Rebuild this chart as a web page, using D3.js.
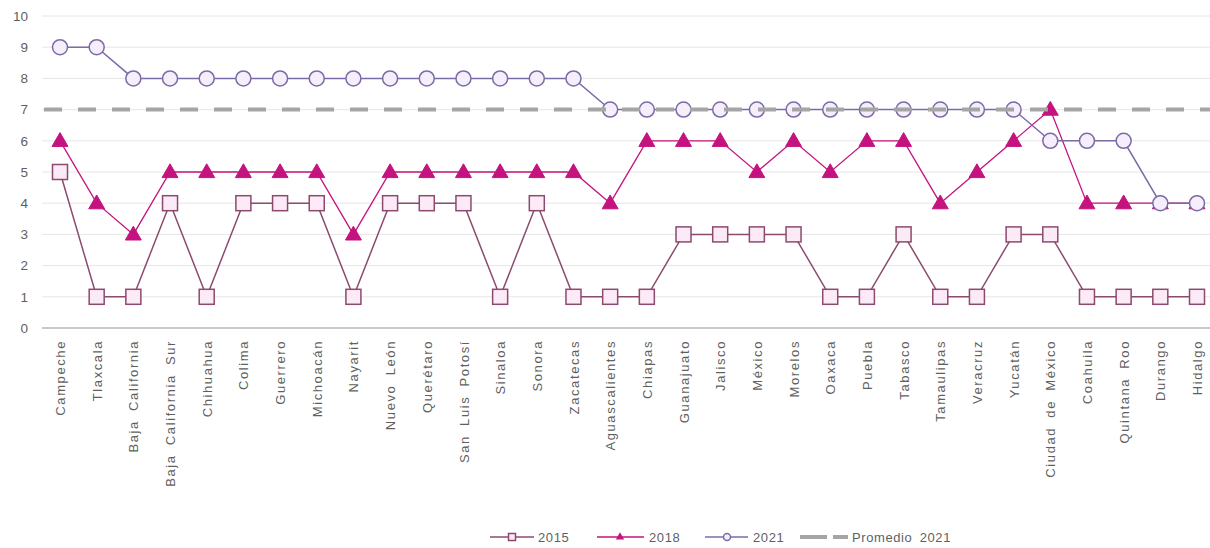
<!DOCTYPE html>
<html><head><meta charset="utf-8">
<script src="https://cdn.jsdelivr.net/npm/d3@7"></script>
<style>
body{margin:0;background:#fff;}
text{font-family:"Liberation Sans",Arial,sans-serif;fill:#5f5f5f;}
</style></head>
<body><svg id="c" width="1210" height="548"></svg>
<script>
const categories = ["Campeche","Tlaxcala","Baja California","Baja California Sur","Chihuahua","Colima","Guerrero","Michoacán","Nayarit","Nuevo León","Querétaro","San Luis Potosí","Sinaloa","Sonora","Zacatecas","Aguascalientes","Chiapas","Guanajuato","Jalisco","México","Morelos","Oaxaca","Puebla","Tabasco","Tamaulipas","Veracruz","Yucatán","Ciudad de México","Coahuila","Quintana Roo","Durango","Hidalgo"];
const values2015 = [5,1,1,4,1,4,4,4,1,4,4,4,1,4,1,1,1,3,3,3,3,1,1,3,1,1,3,3,1,1,1,1];
const values2018 = [6,4,3,5,5,5,5,5,3,5,5,5,5,5,5,4,6,6,6,5,6,5,6,6,4,5,6,7,4,4,4,4];
const values2021 = [9,9,8,8,8,8,8,8,8,8,8,8,8,8,8,7,7,7,7,7,7,7,7,7,7,7,7,6,6,6,4,4];
const promedio2021 = 7;
const yTicks = [0,1,2,3,4,5,6,7,8,9,10];
const seriesNames = ["2015","2018","2021","Promedio  2021"];

const svg = d3.select("#c");
const x = d3.scalePoint().domain(categories).range([60,1197]);
const y = d3.scaleLinear().domain([0,10]).range([328,16]);

// gridlines
svg.append("g").selectAll("line").data(yTicks.filter(d=>d>0)).join("line")
  .attr("x1",42).attr("x2",1210).attr("y1",d=>y(d)).attr("y2",d=>y(d))
  .attr("stroke","#E6E6E6").attr("stroke-width",1);

// y axis
const ya = svg.append("g").attr("transform","translate(30,0)")
  .call(d3.axisLeft(y).tickValues(yTicks).tickSize(0).tickPadding(0));
ya.select(".domain").remove();
ya.selectAll("text").attr("font-size",13.5).attr("fill","#5f5f5f").attr("x",-2);

// x axis
const xa = svg.append("g").attr("transform","translate(0,328)")
  .call(d3.axisBottom(x).tickSize(0));
xa.select(".domain").remove();
xa.selectAll("text").attr("transform","rotate(-90)").attr("text-anchor","end")
  .attr("x",-12).attr("y",0).attr("dy","0.35em")
  .attr("font-size",13).attr("fill","#666666")
  .style("letter-spacing","1.6px").style("word-spacing","4px");
svg.append("line").attr("x1",42).attr("x2",1210).attr("y1",y(0)).attr("y2",y(0))
  .attr("stroke","#C9C9C9").attr("stroke-width",2);

const line = d3.line().x((d,i)=>x(categories[i])).y(d=>y(d));

const C15 = "#8C4A6E", F15 = "#FCEAF6";
const C18 = "#C4137F";
const C21 = "#7A6CA6", F21 = "#F6EEFB";
const CAVG = "#A5A5A5";

// 2015
svg.append("path").datum(values2015).attr("d",line).attr("fill","none").attr("stroke",C15).attr("stroke-width",1.5);
svg.append("g").selectAll("rect").data(values2015).join("rect")
  .attr("x",(d,i)=>x(categories[i])-7.5).attr("y",d=>y(d)-7.5).attr("width",15).attr("height",15)
  .attr("fill",F15).attr("stroke",C15).attr("stroke-width",1.5);

// 2018
svg.append("path").datum(values2018).attr("d",line).attr("fill","none").attr("stroke",C18).attr("stroke-width",1.3);
const tri = d3.symbol().type(d3.symbolTriangle).size(110);
svg.append("g").selectAll("path").data(values2018).join("path")
  .attr("d",tri).attr("transform",(d,i)=>`translate(${x(categories[i])},${y(d)+1})`)
  .attr("fill",C18).attr("stroke",C18).attr("stroke-width",1);

// 2021
svg.append("path").datum(values2021).attr("d",line).attr("fill","none").attr("stroke",C21).attr("stroke-width",1.5);
svg.append("g").selectAll("circle").data(values2021).join("circle")
  .attr("cx",(d,i)=>x(categories[i])).attr("cy",d=>y(d)).attr("r",7.5)
  .attr("fill",F21).attr("stroke",C21).attr("stroke-width",1.5);

// promedio
svg.append("line").attr("x1",42).attr("x2",1210).attr("y1",y(promedio2021)).attr("y2",y(promedio2021))
  .attr("stroke",CAVG).attr("stroke-width",4).attr("stroke-dasharray","18,16").attr("stroke-dashoffset",-2);

// legend
const ly = 537;
const leg = svg.append("g");
// 2015
leg.append("line").attr("x1",490).attr("x2",534).attr("y1",ly).attr("y2",ly).attr("stroke",C15).attr("stroke-width",1.5);
leg.append("rect").attr("x",512-3.5).attr("y",ly-3.5).attr("width",7).attr("height",7).attr("fill",F15).attr("stroke",C15).attr("stroke-width",1.5);
// 2018
leg.append("line").attr("x1",597).attr("x2",644).attr("y1",ly).attr("y2",ly).attr("stroke",C18).attr("stroke-width",1.3);
leg.append("path").attr("d",d3.symbol().type(d3.symbolTriangle).size(30)).attr("transform",`translate(620,${ly})`).attr("fill",C18);
// 2021
leg.append("line").attr("x1",705).attr("x2",748).attr("y1",ly).attr("y2",ly).attr("stroke",C21).attr("stroke-width",1.5);
leg.append("circle").attr("cx",727).attr("cy",ly).attr("r",3.5).attr("fill",F21).attr("stroke",C21).attr("stroke-width",1.5);
// promedio
leg.append("line").attr("x1",800).attr("x2",848).attr("y1",ly).attr("y2",ly).attr("stroke",CAVG).attr("stroke-width",4).attr("stroke-dasharray","27,6");
const ltx = [538,649,753,852];
leg.selectAll("text").data(seriesNames).join("text")
  .attr("x",(d,i)=>ltx[i]).attr("y",ly).attr("dy","0.35em").attr("font-size",13)
  .style("letter-spacing","0.6px").style("word-spacing","3px").text(d=>d);
</script></body></html>
